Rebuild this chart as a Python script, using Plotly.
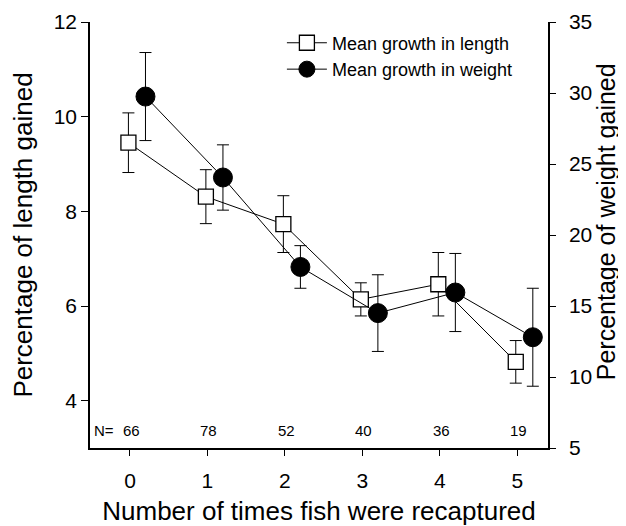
import plotly.graph_objects as go

# ---- data ----
recaptures = [0, 1, 2, 3, 4, 5]
length_mean = [9.45, 8.31, 7.73, 6.14, 6.46, 4.82]
length_err = [0.63, 0.57, 0.60, 0.35, 0.67, 0.45]
weight_mean = [29.75, 24.05, 17.75, 14.5, 15.95, 12.8]
weight_err = [3.1, 2.3, 1.5, 2.7, 2.75, 3.45]
n_fish = [66, 78, 52, 40, 36, 19]
x_ticks = [0, 1, 2, 3, 4, 5]
y_left_ticks = [4, 6, 8, 10, 12]
y_right_ticks = [5, 10, 15, 20, 25, 30, 35]

offset_weight = 0.2
FONT = "Liberation Sans, Arial, Helvetica, sans-serif"

fig = go.Figure()

fig.add_trace(go.Scatter(
    x=[v - 0.02 for v in recaptures], y=length_mean,
    name="Mean growth in length",
    mode="lines+markers",
    line=dict(color="black", width=1),
    marker=dict(symbol="square", size=15, color="white",
                line=dict(color="black", width=1.3)),
    error_y=dict(type="data", array=length_err, visible=True,
                 color="black", thickness=1, width=6),
    yaxis="y",
))

fig.add_trace(go.Scatter(
    x=[v + offset_weight for v in recaptures], y=weight_mean,
    name="Mean growth in weight",
    mode="lines+markers",
    line=dict(color="black", width=1),
    marker=dict(symbol="circle", size=19, color="black",
                line=dict(color="black", width=1)),
    error_y=dict(type="data", array=weight_err, visible=True,
                 color="black", thickness=1, width=6),
    yaxis="y2",
))

annotations = [dict(
    x=0, xref="paper", xanchor="left", xshift=2,
    y=3.38, yref="y", yanchor="middle",
    text="N=", showarrow=False,
    font=dict(family=FONT, size=15, color="black"),
)]
for xv, n in zip(recaptures, n_fish):
    annotations.append(dict(
        x=xv + 0.02, xref="x", y=3.38, yref="y", yanchor="middle",
        text=str(n), showarrow=False,
        font=dict(family=FONT, size=15, color="black"),
    ))
# right-axis title as a rotated annotation
annotations.append(dict(
    x=1, xref="paper", xshift=58, xanchor="center",
    y=0.53, yref="paper", yanchor="middle",
    text="Percentage of weight gained", textangle=-90, showarrow=False,
    font=dict(family=FONT, size=25, color="black"),
))

fig.update_layout(
    width=618, height=518,
    margin=dict(l=82, r=78, t=14, b=78, autoexpand=False),
    paper_bgcolor="white", plot_bgcolor="white",
    font=dict(family=FONT, color="black"),
    showlegend=True,
    legend=dict(
        x=0.419, y=0.994, xanchor="left", yanchor="top",
        bgcolor="rgba(0,0,0,0)", borderwidth=0,
        font=dict(family=FONT, size=18, color="black"),
        itemwidth=40,
    ),
    xaxis=dict(
        range=[-0.516, 5.396], automargin=False,
        tickmode="array", tickvals=x_ticks,
        ticks="outside", ticklen=6, tickwidth=1, tickcolor="black",
        ticklabelstandoff=7,
        showline=True, linecolor="black", linewidth=1.5,
        showgrid=False, zeroline=False,
        tickfont=dict(family=FONT, size=21),
        title=dict(text="Number of times fish were recaptured",
                   font=dict(family=FONT, size=26), standoff=12),
    ),
    yaxis=dict(
        range=[3, 12], automargin=False,
        tickmode="array", tickvals=y_left_ticks,
        ticks="outside", ticklen=7, tickwidth=1, tickcolor="black",
        showline=True, linecolor="black", linewidth=1.5,
        showgrid=False, zeroline=False,
        tickfont=dict(family=FONT, size=21),
        title=dict(text="Percentage of length gained",
                   font=dict(family=FONT, size=26), standoff=17),
    ),
    yaxis2=dict(
        range=[5, 35], overlaying="y", side="right", automargin=False,
        tickmode="array", tickvals=y_right_ticks,
        ticks="outside", ticklen=6, tickwidth=1, tickcolor="black",
        ticklabelstandoff=9,
        showline=True, linecolor="black", linewidth=1.5,
        showgrid=False, zeroline=False,
        tickfont=dict(family=FONT, size=21),
    ),
    annotations=annotations,
)

fig.write_html("out.html")
